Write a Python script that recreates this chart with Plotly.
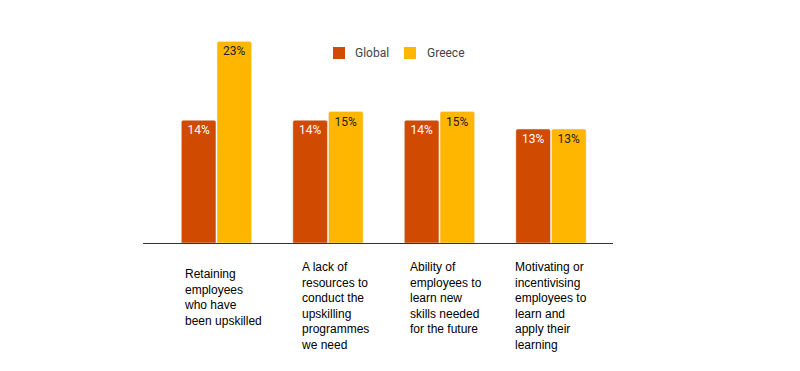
import plotly.graph_objects as go

categories = [
    "Retaining<br>employees<br>who have<br>been upskilled",
    "A lack of<br>resources to<br>conduct the<br>upskilling<br>programmes<br>we need",
    "Ability of<br>employees to<br>learn new<br>skills needed<br>for the future",
    "Motivating or<br>incentivising<br>employees to<br>learn and<br>apply their<br>learning",
]
global_vals = [14, 14, 14, 13]
greece_vals = [23, 15, 15, 13]
series_names = ["Global", "Greece"]
series_colors = ["#D04A02", "#FFB600"]

idx = list(range(len(categories)))

fig = go.Figure()
fig.add_trace(go.Bar(
    x=idx, y=global_vals, name=series_names[0],
    marker=dict(color=series_colors[0]),
    text=[f"{v}%" for v in global_vals], textposition="inside",
    insidetextanchor="end", textangle=0,
    insidetextfont=dict(family="Roboto", size=12, color="#FFFFFF"),
    hoverinfo="skip",
))
fig.add_trace(go.Bar(
    x=idx, y=greece_vals, name=series_names[1],
    marker=dict(color=series_colors[1]),
    text=[f"{v}%" for v in greece_vals], textposition="inside",
    insidetextanchor="end", textangle=0,
    insidetextfont=dict(family="Roboto", size=12, color="#222222"),
    hoverinfo="skip",
))

label_y = [-0.103, -0.070, -0.070, -0.070]
label_dx = [0.06, 0.06, 0.055, 0.0]
for i, lab in enumerate(categories):
    fig.add_annotation(
        x=i + label_dx[i], y=label_y[i], xref="x", yref="paper",
        text=lab, showarrow=False, xanchor="center", yanchor="top",
        align="left", font=dict(family="Arial", size=12, color="#000000"),
    )

# custom legend (squares + labels)
legend_sq_x = [0.4043, 0.5553]
legend_txt_x = [0.4468, 0.600]
for name, col, sx, tx in zip(series_names, series_colors, legend_sq_x, legend_txt_x):
    fig.add_shape(type="rect", xref="paper", yref="paper",
                  x0=sx, x1=sx + 0.0255, y0=0.8638, y1=0.9202,
                  fillcolor=col, line=dict(width=0))
    fig.add_annotation(x=tx, y=0.892, xref="paper", yref="paper", text=name,
                       showarrow=False, xanchor="left", yanchor="middle",
                       font=dict(family="Roboto", size=12, color="#444444"))

fig.update_layout(
    width=800, height=371,
    margin=dict(l=135, r=195, t=22, b=136, pad=0),
    paper_bgcolor="white", plot_bgcolor="white",
    barmode="group", bargap=0.36, bargroupgap=0.03,
    barcornerradius=2,
    showlegend=False,
    xaxis=dict(range=[-0.659, 3.556], showticklabels=False, showgrid=False,
               zeroline=False, showline=False, ticks=""),
    yaxis=dict(range=[0, 24.3], showticklabels=False, showgrid=False,
               zeroline=True, zerolinecolor="#333333", zerolinewidth=1, showline=False),
    uniformtext=dict(minsize=8, mode="show"),
)

fig.write_html("out.html")
